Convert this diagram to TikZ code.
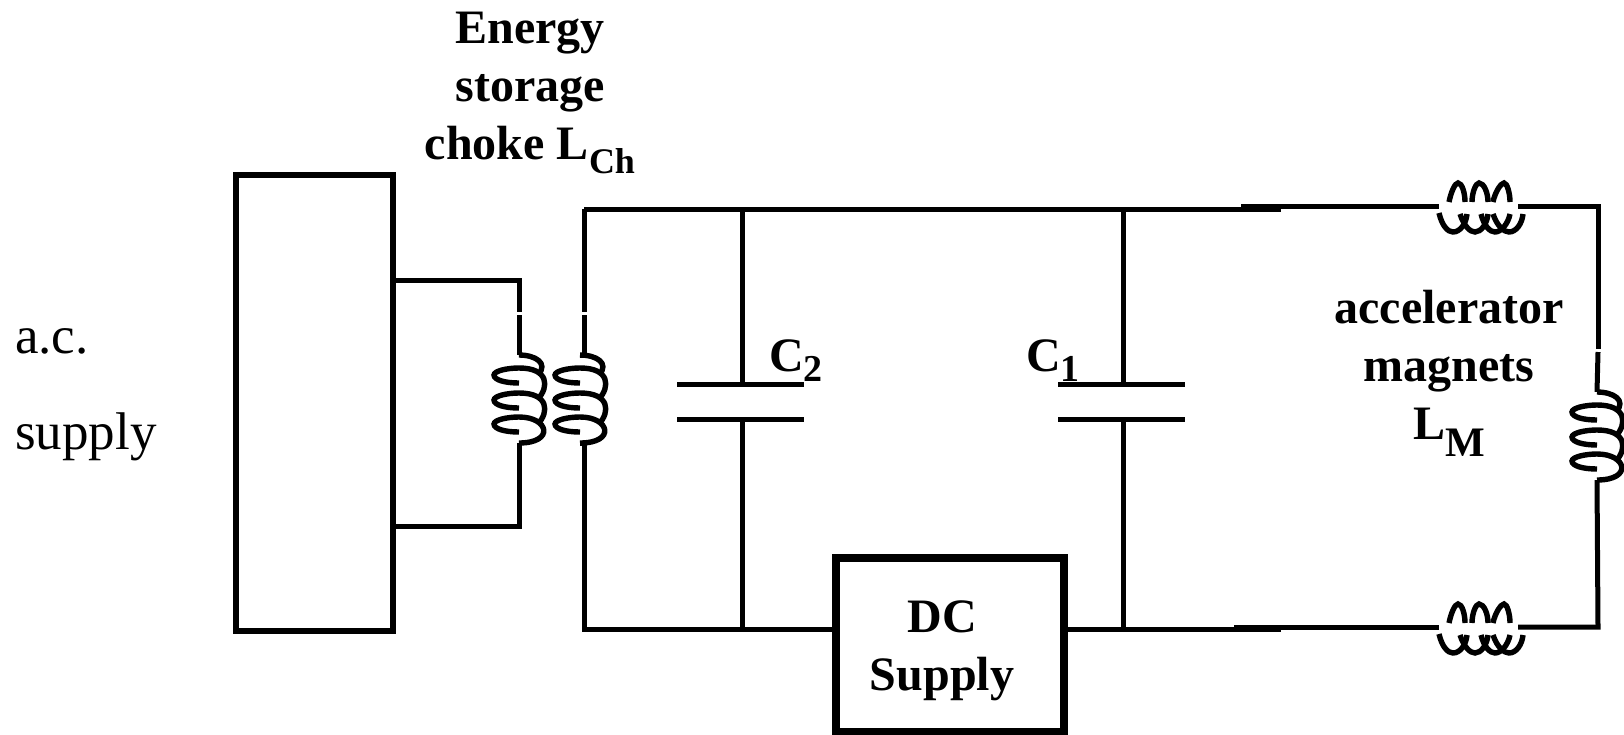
\documentclass[tikz,border=0pt]{standalone}
\usepackage{fontspec}
\setmainfont{Liberation Serif}
\newcommand{\lowtext}[3][36]{\raisebox{#2}{\fontsize{#1}{#1}\selectfont #3}}
\tikzset{
  wire/.style={line width=5pt},
  coilline/.style={line width=5.4pt},
  framebox/.style={draw,line width=6.5pt,inner sep=0pt},
  boldlabel/.style={inner sep=0pt,align=center,font=\fontsize{48}{58}\selectfont\bfseries},
  plainlabel/.style={inner sep=0pt,anchor=base west,font=\fontsize{53}{53}\selectfont},
  coilv/.pic={
    \coordinate (-top) at (0,0);
    \coordinate (-bot) at (0,88);
    \draw[coilline] (0,0) .. controls (16,0) and (30,8) .. (19,20);
    \foreach \d in {0,25}{
      \draw[coilline] (0,28+\d) .. controls (-14,28+\d) and (-25,25+\d) .. (-25,20+\d)
        .. controls (-25,16+\d) and (-12,13+\d) .. (0,13+\d)
        .. controls (30,13+\d) and (30,32+\d) .. (19,44+\d);
    }
    \draw[coilline] (0,77) .. controls (-14,77) and (-25,74) .. (-25,69)
      .. controls (-25,65) and (-12,62) .. (0,62)
      .. controls (30,62) and (36,88) .. (0,88);
  },
  coilh/.pic={
    \coordinate (-left) at (-41,0);
    \coordinate (-right) at (38,0);
    \draw[coilline] (-31,-4) .. controls (-29,-14) and (-25,-23) .. (-22,-23) .. controls (-18,-23) and (-15,-13) .. (-15,-4);
    \draw[coilline] (-8,-4) .. controls (-8,-14) and (-4,-23) .. (-1,-23) .. controls (4,-23) and (8,-13) .. (8,-4);
    \draw[coilline] (13,-4) .. controls (15,-14) and (21,-23) .. (24,-23) .. controls (27,-23) and (30,-13) .. (30,-4);
    \draw[coilline] (-41,7) .. controls (-38,20) and (-32,26) .. (-27,26) .. controls (-20,26) and (-14,18) .. (-13,8);
    \draw[coilline] (-20,8) .. controls (-16,20) and (-10,26) .. (-5,26) .. controls (1,26) and (7,18) .. (8,8);
    \draw[coilline] (1,8) .. controls (4,20) and (10,26) .. (15,26) .. controls (21,26) and (28,18) .. (30,8);
    \draw[coilline] (13,8) .. controls (17,20) and (24,26) .. (29,26) .. controls (36,26) and (42,18) .. (43,8);
  }
}
\begin{document}
\begin{tikzpicture}[x=1pt,y=-1pt]
  \useasboundingbox (0,0) rectangle (1624,734);
  \node[framebox,minimum width=157pt,minimum height=456pt] (mains) at (314.5,403) {};
  \node[framebox,line width=8pt,minimum width=228pt,minimum height=174pt] (dc) at (950,645) {};
  \node[plainlabel] (ac) at (15,353) {a.c.};
  \node[plainlabel] (supply) at (15,449) {supply};
  \node[boldlabel] (choke) at (530,93) {Energy\\storage\\choke L\lowtext{-0.28em}{Ch}};
  \node[boldlabel] (dctext) at (942,651) {DC\\Supply};
  \node[boldlabel] (magtext) at (1449,373) {accelerator\\magnets\\L\lowtext[42]{-0.36em}{M}};
  \node[boldlabel,anchor=base west] (ctwo) at (769,371) {C\lowtext[38]{-0.22em}{2}};
  \node[boldlabel,anchor=base west] (cone) at (1026,371) {C\lowtext[38]{-0.22em}{1}};
  \pic (coilp) at (519,355) {coilv};
  \pic (coils) at (580,355) {coilv};
  \pic (coilm) at (1597,392) {coilv};
  \pic (coilt) at (1480,206) {coilh};
  \pic (coilb) at (1480,627) {coilh};
  \draw
    (393,280) coordinate (p1)
    (519,280) coordinate (p2)
    (519,312) coordinate (p3)
    (519,315) coordinate (p4)
    (393,526) coordinate (p5)
    (519,526) coordinate (p6)
    (584,209) coordinate (s1)
    (584,312) coordinate (s2)
    (584,315) coordinate (s3)
    (584,355) coordinate (s5)
    (584,443) coordinate (s6)
    (584,629) coordinate (s4)
    (742,209) coordinate (t1)
    (1123,209) coordinate (t2)
    (1281,209) coordinate (t3)
    (1241,206) coordinate (t4)
    (1598,206) coordinate (t5)
    (1598,349) coordinate (t6)
    (1598,352) coordinate (t7)
    (1598,627) coordinate (t8)
    (742,384) coordinate (a1)
    (742,419) coordinate (a2)
    (677,384) coordinate (a3)
    (804,384) coordinate (a4)
    (677,419) coordinate (a5)
    (804,419) coordinate (a6)
    (742,629) coordinate (a7)
    (1123,384) coordinate (b1)
    (1123,419) coordinate (b2)
    (1058,384) coordinate (b3)
    (1185,384) coordinate (b4)
    (1058,419) coordinate (b5)
    (1185,419) coordinate (b6)
    (1123,629) coordinate (b7)
    (836,629) coordinate (d1)
    (1064,629) coordinate (d2)
    (1281,629) coordinate (d3)
    (1234,627) coordinate (d4);
  \begin{scope}[wire]
    \draw (p1) to (p2) to (p3);
    \draw (p4) to (coilp-top);
    \draw (coilp-bot) to (p6) to (p5);
    \draw (s1) to (s2);
    \draw (s3) to (s5) to (coils-top);
    \draw (coils-bot) to (s6) to (s4) to (d1);
    \draw (s1) to (t3);
    \draw (t4) to (coilt-left);
    \draw (coilt-right) to (t5) to (t6);
    \draw (t7) to (coilm-top);
    \draw (coilm-bot) to (t8) to (coilb-right);
    \draw (coilb-left) to (d4);
    \draw (d2) to (d3);
    \draw (t1) to (a1);
    \draw (a2) to (a7);
    \draw (t2) to (b1);
    \draw (b2) to (b7);
    \draw (a3) to (a4);
    \draw (a5) to (a6);
    \draw (b3) to (b4);
    \draw (b5) to (b6);
  \end{scope}
\end{tikzpicture}
\end{document}
